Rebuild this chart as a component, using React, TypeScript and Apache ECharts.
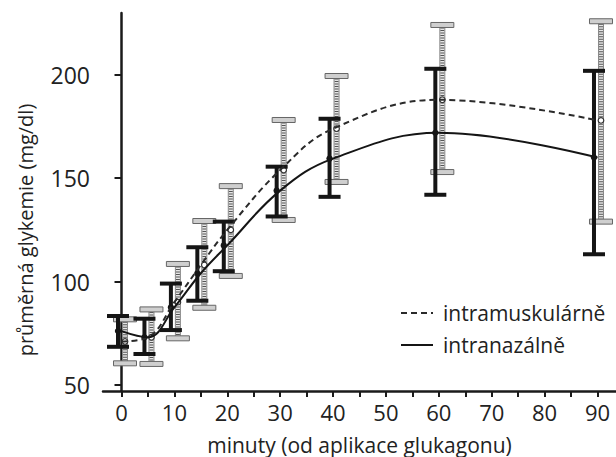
import React, { useEffect, useRef } from "react";
import * as echarts from "echarts";

const minutes = [0, 5, 10, 15, 20, 30, 40, 60, 90];
const imMean = [71, 73, 90, 108, 125, 154, 174, 188, 178];
const imLow = [60.4, 60.1, 72.5, 87.3, 102.7, 129.8, 148.2, 153, 129];
const imHigh = [81.7, 86.5, 108.5, 129.3, 146.2, 178.2, 199.5, 224.2, 226];
const inMean = [76, 73, 87.5, 104, 117.5, 144, 159.5, 172, 160];
const inLow = [68.4, 64.9, 76.5, 90.7, 105, 131.5, 141, 142, 113.2];
const inHigh = [83.3, 82, 99, 116.6, 129, 155.6, 178.8, 203, 202];
const xTicks = [0, 5, 10, 15, 20, 25, 30, 35, 40, 45, 50, 55, 60, 65, 70, 75, 80, 85, 90];
const xLabels = [0, 10, 20, 30, 40, 50, 60, 70, 80, 90];
const yLabels = [50, 100, 150, 200];
const nameIM = "intramuskulárně";
const nameIN = "intranazálně";
const xTitle = "minuty (od aplikace glukagonu)";
const yTitle = "průměrná glykemie (mg/dl)";

const FONT = "Open Sans";

export default function App() {
  const ref = useRef<HTMLDivElement>(null);
  useEffect(() => {
    if (!ref.current) return;
    const chart = echarts.init(ref.current, null, { renderer: "svg" });
    const imData = minutes.map((m, i) => [m, imLow[i], imMean[i], imHigh[i]]);
    const inData = minutes.map((m, i) => [m, inLow[i], inMean[i], inHigh[i]]);

    const grayItem = (params: any, api: any) => {
      const x = api.value(0);
      const pLo = api.coord([x, api.value(1)]);
      const pM = api.coord([x, api.value(2)]);
      const pHi = api.coord([x, api.value(3)]);
      const cx = pLo[0] + 3.5;
      return {
        type: "group",
        children: [
          { type: "rect", shape: { x: cx - 2.5, y: pHi[1], width: 5, height: pLo[1] - pHi[1] }, style: { fill: "#e6e6e6", stroke: null } },
          { type: "line", shape: { x1: cx, y1: pHi[1], x2: cx, y2: pLo[1] }, style: { stroke: "#555555", lineWidth: 4, lineDash: [1, 1.5] } },
          { type: "rect", shape: { x: cx - 2.5, y: pHi[1], width: 5, height: pLo[1] - pHi[1] }, style: { fill: "none", stroke: "#888888", lineWidth: 1 } },
          { type: "rect", shape: { x: cx - 11.5, y: pHi[1] - 2.5, width: 23, height: 5 }, style: { fill: "#cfcfcf", stroke: "#666666", lineWidth: 1 } },
          { type: "rect", shape: { x: cx - 11.5, y: pLo[1] - 2.5, width: 23, height: 5 }, style: { fill: "#cfcfcf", stroke: "#666666", lineWidth: 1 } },
          { type: "circle", shape: { cx: cx, cy: pM[1], r: 2.8 }, style: { fill: "#ffffff", stroke: "#333333", lineWidth: 1.2 } },
        ],
      };
    };

    const blackItem = (params: any, api: any) => {
      const x = api.value(0);
      const pLo = api.coord([x, api.value(1)]);
      const pM = api.coord([x, api.value(2)]);
      const pHi = api.coord([x, api.value(3)]);
      const cx = pLo[0] - 3.5;
      return {
        type: "group",
        children: [
          { type: "line", shape: { x1: cx, y1: pHi[1], x2: cx, y2: pLo[1] }, style: { stroke: "#151515", lineWidth: 4 } },
          { type: "rect", shape: { x: cx - 11, y: pHi[1] - 2, width: 22, height: 4 }, style: { fill: "#151515" } },
          { type: "rect", shape: { x: cx - 11, y: pLo[1] - 2, width: 22, height: 4 }, style: { fill: "#151515" } },
          { type: "circle", shape: { cx: cx, cy: pM[1], r: 3.2 }, style: { fill: "#151515" } },
        ],
      };
    };

    chart.setOption({
      animation: false,
      backgroundColor: "#ffffff",
      textStyle: { fontFamily: FONT },
      grid: { left: 103, right: 0, top: 13, bottom: 66, containLabel: false, outerBoundsMode: "none" },
      graphic: [
        {
          type: "text",
          x: 25,
          y: 230,
          rotation: Math.PI / 2,
          style: {
            text: yTitle,
            fontFamily: FONT,
            fontSize: 20,
            fill: "#222",
            align: "center",
            verticalAlign: "middle",
          },
        },
      ],
      legend: {
        orient: "vertical",
        left: 400,
        top: 302,
        padding: 0,
        itemWidth: 32,
        itemHeight: 14,
        itemGap: 10,
        selectedMode: false,
        itemStyle: { opacity: 0, borderWidth: 0 },
        textStyle: { fontFamily: FONT, fontSize: 21, color: "#222", lineHeight: 22, padding: [0, 0, 0, 5] },
        data: [nameIM, nameIN],
      },
      xAxis: {
        type: "value",
        min: -3.5,
        max: 93.5,
        name: xTitle,
        nameLocation: "middle",
        nameGap: 43,
        nameTextStyle: { fontFamily: FONT, fontSize: 21, lineHeight: 22, color: "#222" },
        axisLine: { show: true, lineStyle: { color: "#1a1a1a", width: 2.5 } },
        axisTick: { show: true, customValues: xTicks, length: 6, lineStyle: { color: "#1a1a1a", width: 2 } },
        axisLabel: { customValues: xLabels, margin: 10, fontFamily: FONT, fontSize: 22, color: "#222" },
        splitLine: { show: false },
      },
      yAxis: {
        type: "value",
        min: 47,
        max: 230,
        axisLine: { show: true, lineStyle: { color: "#1a1a1a", width: 2.5 } },
        axisTick: { show: true, customValues: yLabels, length: 7, lineStyle: { color: "#1a1a1a", width: 2 } },
        axisLabel: { customValues: yLabels, margin: 13, fontFamily: FONT, fontSize: 23, color: "#222" },
        splitLine: { show: false },
      },
      series: [
        { type: "custom", name: "im-bars", data: imData, renderItem: grayItem, clip: false, z: 2 },
        { type: "custom", name: "in-bars", data: inData, renderItem: blackItem, clip: false, z: 3 },
        {
          type: "line",
          name: nameIM,
          data: minutes.map((m, i) => [m, imMean[i]]),
          smooth: 0.4,
          symbol: "none",
          lineStyle: { color: "#2a2a2a", width: 2, type: [6, 4] },
          itemStyle: { color: "#2a2a2a" },
          z: 4,
        },
        {
          type: "line",
          name: nameIN,
          data: minutes.map((m, i) => [m, inMean[i]]),
          smooth: 0.4,
          symbol: "none",
          lineStyle: { color: "#151515", width: 2 },
          itemStyle: { color: "#151515" },
          z: 4,
        },
      ],
    });
    return () => chart.dispose();
  }, []);
  return <div ref={ref} style={{ position: "absolute", left: 0, top: 0, width: 616, height: 457 }} />;
}
